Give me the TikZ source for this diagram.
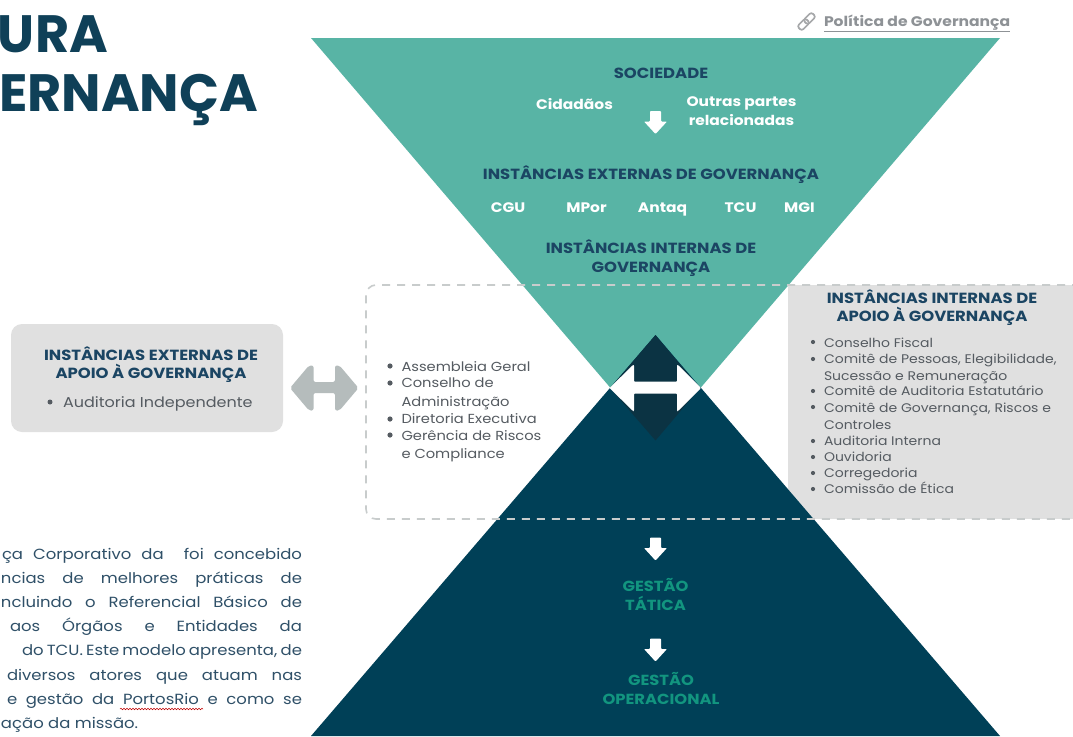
\documentclass[tikz,border=0pt]{standalone}
\usepackage{fontspec}
\setmainfont{Poppins}[FakeStretch=1.12]
\newfontfamily\titlefont{Poppins}
\usetikzlibrary{decorations.pathmorphing}
\definecolor{tealc}{HTML}{58B4A5}
\definecolor{darkc}{HTML}{004057}
\definecolor{diamc}{HTML}{0B3343}
\definecolor{navyc}{HTML}{1B4563}
\definecolor{titlec}{HTML}{0F4058}
\definecolor{greyb}{HTML}{E0E0E0}
\definecolor{dashc}{HTML}{C8CCCC}
\definecolor{arrowc}{HTML}{B5BCBC}
\definecolor{listc}{HTML}{555B61}
\definecolor{bodyc}{HTML}{2F5068}
\definecolor{gestc}{HTML}{12957F}
\definecolor{linkc}{HTML}{8E9296}
\definecolor{iconc}{HTML}{A6A8AA}
\tikzset{
 x=1pt,y=-1pt,
 txt/.style={inner sep=0pt,outer sep=0pt,anchor=base},
 headn/.style={txt,text=navyc,font=\fontsize{14.7}{16}\selectfont\bfseries},
 headw/.style={txt,text=white,font=\fontsize{13.8}{16}\selectfont\bfseries},
 headg/.style={txt,text=gestc,font=\fontsize{14.6}{16}\selectfont\bfseries},
 item/.style={inner sep=0pt,outer sep=0pt,anchor=base west,text=listc,font=\fontsize{13.1}{15}\selectfont},
 bodyl/.style={inner sep=0pt,outer sep=0pt,anchor=base west,text=bodyc,font=\fontsize{14.7}{16}\selectfont},
 bull/.style={fill=listc,draw=none},
 titlet/.style={inner sep=0pt,outer sep=0pt,anchor=base west,text=titlec,font=\titlefont\fontsize{52.5}{52}\selectfont\bfseries},
 dnarrow/.pic={\fill[white,rounded corners=0.8pt] (-5.5,-11.5)--(5.5,-11.5)--(5.5,-1)--(11.5,-1)--(0,11.5)--(-11.5,-1)--(-5.5,-1)--cycle;}
}
\begin{document}
\begin{tikzpicture}
\useasboundingbox (0,0) rectangle (1073,736);
\clip (0,0) rectangle (1073,736);
\fill[white] (0,0) rectangle (1073,736);
% grey panel on the right
\fill[greyb] (788,285) rectangle (1073,519);
% triangles
\fill[tealc] (311,38)--(1000,38)--(655.5,440.5)--cycle;
\fill[darkc] (655.5,335)--(1000,736)--(311,736)--cycle;
\fill[diamc] (655.5,335)--(700,388)--(655.5,440.5)--(610,388)--cycle;
% white double arrow
\fill[white,rounded corners=0.8pt] (609.5,388)--(633,365)--(634,365)--(634,381.7)--(677,381.7)--(677,365)--(678,365)--(701,388)--(678,411)--(677,411)--(677,393.5)--(634,393.5)--(634,411)--(633,411)--cycle;
% dashed frame
\draw[dashc,line width=1.6pt,dash pattern=on 8pt off 7pt,rounded corners=10pt] (1080,285)--(366,285)--(366,519)--(1080,519);
% left box and grey arrow
\fill[greyb,rounded corners=11pt] (11,324) rectangle (283,432);
\fill[arrowc,rounded corners=2pt] (290,388)--(309,365.5)--(313.5,365.5)--(313.5,382)--(335,382)--(335,365.5)--(339.5,365.5)--(358.5,388)--(339.5,410.5)--(335,410.5)--(335,393)--(313.5,393)--(313.5,410.5)--(309,410.5)--cycle;
% white small arrows
\pic at (655.5,122.5) {dnarrow};
\pic at (655.5,549) {dnarrow};
\pic at (655.5,650) {dnarrow};
% title
\node[titlet] (t1) at (-2,52) {URA};
\node[titlet] (t2) at (-1,111.5) {ERNANÇA};
% link
\node[inner sep=0pt,outer sep=0pt,anchor=base west,text=linkc,font=\fontsize{13.9}{15}\selectfont\bfseries] (link) at (824,26.5) {\underline{Política de Governança}};
\begin{scope}[shift={(806.5,21.5)},rotate=45]
\draw[iconc,line width=1.7pt,rounded corners=2.5pt] (-10,-3.2) rectangle (1.5,3.2);
\draw[iconc,line width=1.7pt,rounded corners=2.5pt] (-1.5,-3.2) rectangle (10,3.2);
\end{scope}
% top triangle text
\node[headn] (soc) at (661,78.5) {SOCIEDADE};
\node[headw] (cid) at (574.5,109) {Cidadãos};
\node[headw] (out1) at (741.5,106) {Outras partes};
\node[headw] (out2) at (741.5,125) {relacionadas};
\node[headn] (ext) at (651,179.5) {INSTÂNCIAS EXTERNAS DE GOVERNANÇA};
\node[headw] (cgu) at (508,212.5) {CGU};
\node[headw] (mpor) at (586.5,212.5) {MPor};
\node[headw] (ant) at (662.5,212.5) {Antaq};
\node[headw] (tcu) at (740.5,212.5) {TCU};
\node[headw] (mgi) at (799.5,212.5) {MGI};
\node[headn] (int1) at (651,253.5) {INSTÂNCIAS INTERNAS DE};
\node[headn] (int2) at (651,272.5) {GOVERNANÇA};
% bottom
\node[headg] (g1) at (655.5,591.5) {GESTÃO};
\node[headg] (g2) at (655.5,610.5) {TÁTICA};
\node[headg] (g3) at (661,685.5) {GESTÃO};
\node[headg] (g4) at (661,704.5) {OPERACIONAL};
% left box text
\node[headn] (lb1) at (151,360.5) {INSTÂNCIAS EXTERNAS DE};
\node[headn] (lb2) at (151,378.5) {APOIO À GOVERNANÇA};
\fill[bull] (50,402) circle (2.5);
\node[item,font=\fontsize{14.3}{16}\selectfont] (lb3) at (63,407) {Auditoria Independente};
% centre list
\foreach \yy/\tt [count=\i] in {371/Assembleia Geral,387/Conselho de,406/Administração,423/Diretoria Executiva,440/Gerência de Riscos,458/e Compliance}
  \node[item] (c\i) at (401.5,\yy) {\tt};
\foreach \yy in {366,383,419,435} \fill[bull] (390,\yy) circle (2.6);
% right panel
\node[headn] (r1) at (932,303.5) {INSTÂNCIAS INTERNAS DE};
\node[headn] (r2) at (932,321.5) {APOIO À GOVERNANÇA};
\foreach \yy/\tt [count=\i] in {347/Conselho Fiscal,363/{Comitê de Pessoas, Elegibilidade,},380/Sucessão e Remuneração,395/Comitê de Auditoria Estatutário,412/{Comitê de Governança, Riscos e},429/Controles,445/Auditoria Interna,461/Ouvidoria,477/Corregedoria,493/Comissão de Ética}
  \node[item,font=\fontsize{12.5}{14}\selectfont] (ri\i) at (824,\yy) {\tt};
\foreach \yy in {342,359,391,407,441,457,473,489} \fill[bull] (813,\yy) circle (2.1);
% body text
\foreach \xa/\wid/\yy/\tt [count=\i] in {
 2/300/559/{ça Corporativo da \ foi concebido},
 1/301/583/{ncias de melhores práticas de},
 1/301/607/{ncluindo o Referencial Básico de},
 10/292/631/{aos Órgãos e Entidades da},
 22/280/655/{do TCU. Este modelo apresenta, de},
 7/295/680/{diversos atores que atuam nas},
 7/295/704/{e gestão da PortosRio e como se}}
  \node[bodyl] (b\i) at (\xa,\yy) {\makebox[\wid pt][s]{\tt}};
\node[bodyl] (b8) at (1,728) {ação da missão.};
\draw[red!75!black,line width=0.5pt,decorate,decoration={snake,amplitude=0.8pt,segment length=3pt}] (120,709) -- (203,709);
\end{tikzpicture}
\end{document}
